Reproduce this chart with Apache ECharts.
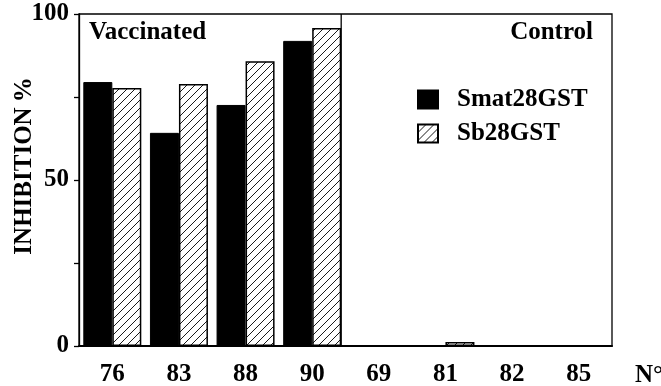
<!DOCTYPE html>
<html>
<head>
<meta charset="utf-8">
<script src="https://cdn.jsdelivr.net/npm/echarts@6/dist/echarts.min.js"></script>
<style>html,body{margin:0;padding:0;background:#fff}#c{width:661px;height:386px}</style>
</head>
<body>
<div id="c"></div>
<script>
var categories = ['76', '83', '88', '90', '69', '81', '82', '85'];
var smatValues = [79.5, 64.2, 72.6, 91.9, 0, 0, 0, 0];
var sbValues = [77.7, 78.9, 85.8, 95.8, 0, 1.2, 0, 0];
var yTickLabels = ['0', '50', '100'];
var seriesNames = ['Smat28GST', 'Sb28GST'];
var yAxisTitle = 'INHIBITION\u2009%';

var FONT = '"Liberation Serif", "Times New Roman", serif';
var FS = 25;

function hatch() {
  var c = document.createElement('canvas');
  c.width = 8; c.height = 8;
  var g = c.getContext('2d');
  g.fillStyle = '#fff'; g.fillRect(0, 0, 8, 8);
  g.strokeStyle = '#000'; g.lineWidth = 0.9;
  g.beginPath();
  g.moveTo(-1, 9); g.lineTo(9, -1);
  g.moveTo(-1, 1); g.lineTo(1, -1);
  g.moveTo(7, 9); g.lineTo(9, 7);
  g.stroke();
  return c;
}

var chart = echarts.init(document.getElementById('c'), null, {renderer: 'canvas'});
var BAR_W = 29;
var txt = {fontFamily: FONT, fontWeight: 'bold', fontSize: FS, color: '#000'};
var option = {
  animation: false,
  backgroundColor: '#fff',
  title: [
    {text: 'Vaccinated', left: 89, top: 20, padding: 0, textStyle: txt},
    {text: 'Control', right: 68, top: 20, padding: 0, textStyle: txt},
    {text: 'N°', left: 635, top: 363, padding: 0, textStyle: txt}
  ],
  grid: {left: 79, right: 49, top: 14, bottom: 40, containLabel: false, outerBoundsMode: 'none',
    show: true, borderColor: '#000', borderWidth: 1.3, backgroundColor: 'transparent'},
  legend: {
    orient: 'vertical', left: 417, top: 87, padding: 0, itemWidth: 20, itemHeight: 18, itemGap: 9,
    icon: 'rect',
    data: seriesNames,
    textStyle: {fontFamily: FONT, fontWeight: 'bold', fontSize: FS, color: '#000', padding: [0, 0, 0, 14]}
  },
  xAxis: {
    type: 'category', data: categories,
    axisLine: {lineStyle: {color: '#000', width: 2}},
    axisTick: {alignWithLabel: true, length: 6, lineStyle: {color: '#000', width: 1.3}},
    axisLabel: {fontFamily: FONT, fontWeight: 'bold', fontSize: FS, color: '#000', margin: 16},
    splitLine: {show: false}
  },
  yAxis: {
    type: 'value', min: 0, max: 100, interval: 25,
    axisLine: {show: true, lineStyle: {color: '#000', width: 1.3}},
    axisTick: {show: true, length: 5, lineStyle: {color: '#000', width: 1.3}},
    axisLabel: {
      fontFamily: FONT, fontWeight: 'bold', fontSize: FS, color: '#000', margin: 10,
      formatter: function (v) { var s = String(v); return yTickLabels.indexOf(s) >= 0 ? s : ''; }
    },
    splitLine: {show: false}
  },
  series: [
    {name: seriesNames[0], type: 'bar', data: smatValues, barWidth: BAR_W, barGap: '0%',
      itemStyle: {color: '#000', borderColor: '#000', borderWidth: 1}},
    {name: seriesNames[1], type: 'bar', data: sbValues, barWidth: BAR_W, barGap: '0%',
      itemStyle: {color: {image: hatch(), repeat: 'repeat'}, borderColor: '#000', borderWidth: 1.5}}
  ]
};
chart.setOption(option);

var p90 = chart.convertToPixel({xAxisIndex: 0}, categories[3]);
var pTop = chart.convertToPixel({yAxisIndex: 0}, 100);
var pBot = chart.convertToPixel({yAxisIndex: 0}, 0);
chart.setOption({
  graphic: [{
    type: 'line', z: 10,
    shape: {x1: p90 + BAR_W, y1: pTop, x2: p90 + BAR_W, y2: pBot},
    style: {stroke: '#000', lineWidth: 1.3}
  }, {
    type: 'text', x: 25, y: 166, rotation: Math.PI / 2,
    style: {text: yAxisTitle, align: 'center', verticalAlign: 'middle',
      font: 'bold ' + FS + 'px ' + FONT, fill: '#000'}
  }]
});
</script>
</body>
</html>
